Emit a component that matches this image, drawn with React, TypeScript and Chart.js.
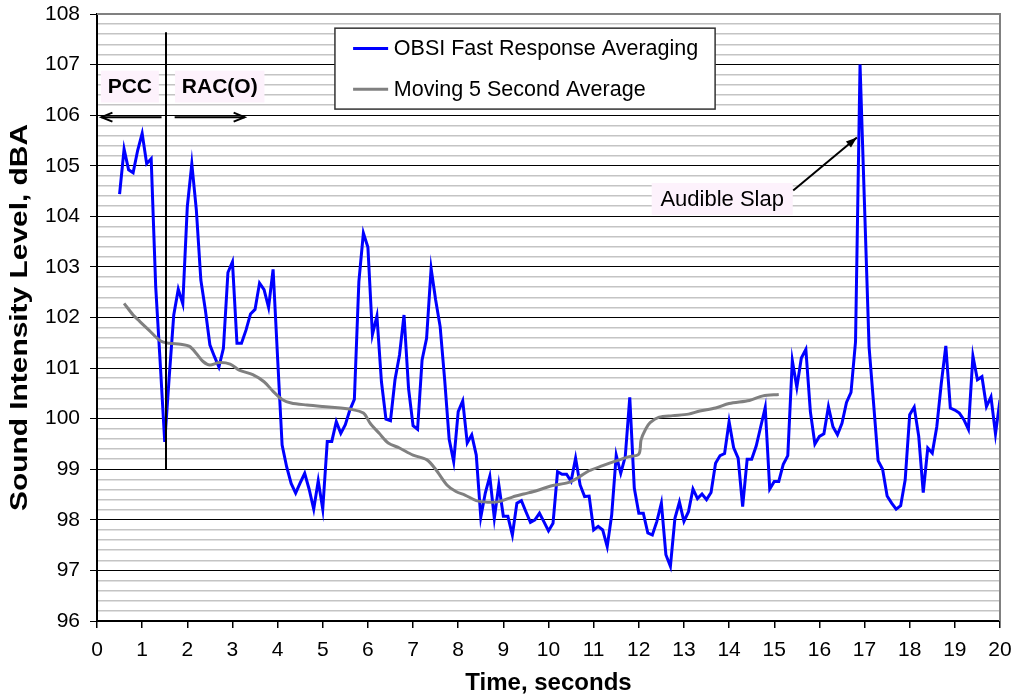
import React, { useEffect, useRef } from 'react';
import { Chart, registerables } from 'chart.js';

Chart.register(...registerables);

const FONT = '"Liberation Sans", Arial, Helvetica, sans-serif';

// ---- Data ----
const xTickValues = [0, 1, 2, 3, 4, 5, 6, 7, 8, 9, 10, 11, 12, 13, 14, 15, 16, 17, 18, 19, 20];
const yTickValues = [96, 97, 98, 99, 100, 101, 102, 103, 104, 105, 106, 107, 108];

const obsiLabel = 'OBSI Fast Response Averaging';
const obsiStartTime = 0.5;
const obsiTimeStep = 0.1;
const obsiLevels = [
  104.44, 105.33, 104.92, 104.86, 105.3, 105.64, 105.04, 105.14, 102.61, 101.1,
  99.54, 100.83, 102.05, 102.56, 102.27, 104.19, 105.04, 104.13, 102.74, 102.15,
  101.46, 101.23, 101.02, 101.39, 102.89, 103.1, 101.49, 101.49, 101.75, 102.07,
  102.16, 102.68, 102.55, 102.2, 102.95, 101.2, 99.48, 99.05, 98.72, 98.53,
  98.73, 98.92, 98.6, 98.21, 98.77, 98.21, 99.55, 99.55, 99.94, 99.71,
  99.88, 100.17, 100.38, 102.71, 103.67, 103.39, 101.66, 102.03, 100.73, 99.99,
  99.96, 100.77, 101.26, 102.05, 100.6, 99.86, 99.79, 101.16, 101.59, 102.97,
  102.35, 101.82, 100.77, 99.59, 99.15, 100.14, 100.35, 99.52, 99.68, 99.28,
  98.05, 98.53, 98.86, 98.03, 98.69, 98.07, 98.07, 97.7, 98.33, 98.38,
  98.16, 97.95, 98.0, 98.13, 97.96, 97.78, 97.93, 98.95, 98.9, 98.9,
  98.76, 99.22, 98.69, 98.46, 98.47, 97.8, 97.87, 97.8, 97.47, 98.1,
  99.28, 98.92, 99.25, 100.42, 98.63, 98.13, 98.13, 97.74, 97.7, 97.97,
  98.33, 97.31, 97.08, 98.03, 98.35, 97.97, 98.16, 98.61, 98.42, 98.51,
  98.4, 98.54, 99.12, 99.27, 99.31, 99.94, 99.43, 99.22, 98.26, 99.2,
  99.2, 99.46, 99.84, 100.22, 98.61, 98.76, 98.76, 99.1, 99.27, 101.15,
  100.62, 101.2, 101.37, 100.14, 99.5, 99.65, 99.7, 100.24, 99.84, 99.68,
  99.91, 100.32, 100.52, 101.52, 107.0, 104.2, 101.42, 100.3, 99.17, 99.0,
  98.47, 98.33, 98.21, 98.28, 98.79, 100.08, 100.23, 99.65, 98.54, 99.42,
  99.32, 99.84, 100.7, 101.44, 100.21, 100.17, 100.11, 99.98, 99.79, 101.24,
  100.77, 100.83, 100.24, 100.43, 99.7, 100.37,
];

const avgLabel = 'Moving 5 Second Average';
const avgTimes = [
  0.6, 0.8, 0.95, 1.15, 1.4, 1.6, 1.85, 2.05, 2.2, 2.35,
  2.5, 2.7, 2.95, 3.15, 3.45, 3.7, 3.9, 4.1, 4.3, 4.65,
  5.0, 5.4, 5.6, 5.9, 6.05, 6.25, 6.45, 6.7, 7.0, 7.3,
  7.5, 7.75, 7.95, 8.15, 8.4, 8.65, 8.9, 9.2, 9.45, 9.75,
  10.05, 10.45, 10.7, 10.9, 11.2, 11.45, 11.75, 12.0, 12.05, 12.15,
  12.25, 12.45, 12.75, 13.1, 13.35, 13.7, 14.0, 14.45, 14.75, 15.1,
];
const avgLevels = [
  102.28, 102.05, 101.92, 101.75, 101.54, 101.49, 101.47, 101.43, 101.29, 101.13,
  101.06, 101.11, 101.08, 100.96, 100.87, 100.73, 100.54, 100.38, 100.31, 100.27,
  100.24, 100.21, 100.19, 100.11, 99.91, 99.71, 99.52, 99.42, 99.28, 99.19,
  99.0, 98.69, 98.56, 98.49, 98.38, 98.35, 98.36, 98.45, 98.51, 98.58,
  98.67, 98.74, 98.86, 98.97, 99.07, 99.15, 99.24, 99.3, 99.58, 99.79,
  99.92, 100.03, 100.06, 100.09, 100.15, 100.21, 100.3, 100.36, 100.45, 100.48,
];

const xTitle = 'Time, seconds';
const yTitle = 'Sound Intensity Level, dBA';
const pccText = 'PCC';
const racText = 'RAC(O)';
const slapText = 'Audible Slap';
const dividerTime = 1.53;
const dividerRange = [99.0, 107.64];

const BLUE = '#0000ff';
const GRAY = '#808080';
const LABEL_BG = '#fdf2fc';

const isMajor = (v: number) => Math.abs(v - Math.round(v)) < 1e-6;

function arrowHead(ctx: CanvasRenderingContext2D, x1: number, y1: number, x2: number, y2: number, len: number, half: number, filled: boolean) {
  const ang = Math.atan2(y2 - y1, x2 - x1);
  const bx = x2 - len * Math.cos(ang);
  const by = y2 - len * Math.sin(ang);
  const px = -Math.sin(ang) * half;
  const py = Math.cos(ang) * half;
  ctx.beginPath();
  ctx.moveTo(bx + px, by + py);
  ctx.lineTo(x2, y2);
  ctx.lineTo(bx - px, by - py);
  if (filled) {
    ctx.closePath();
    ctx.fill();
  } else {
    ctx.stroke();
  }
}

const overlayPlugin = {
  id: 'overlay',
  afterDatasetsDraw(chart: any) {
    const { ctx, chartArea, scales } = chart;
    const xs = scales.x;
    const ys = scales.y;
    const px = (t: number) => xs.getPixelForValue(t);
    const py = (v: number) => ys.getPixelForValue(v);
    ctx.save();

    // plot frame: top & right in gray
    ctx.strokeStyle = '#808080';
    ctx.lineWidth = 2;
    ctx.beginPath();
    ctx.moveTo(chartArea.left, chartArea.top);
    ctx.lineTo(chartArea.right, chartArea.top);
    ctx.lineTo(chartArea.right, chartArea.bottom);
    ctx.stroke();

    // divider line
    ctx.strokeStyle = '#000';
    ctx.lineWidth = 2;
    ctx.beginPath();
    ctx.moveTo(Math.round(px(dividerTime)), py(dividerRange[0]));
    ctx.lineTo(Math.round(px(dividerTime)), py(dividerRange[1]));
    ctx.stroke();

    // label boxes
    const box = (text: string, t1: number, t2: number, v1: number, v2: number, bold: boolean, size: number) => {
      const x1 = px(t1), x2 = px(t2), y1 = py(v1), y2 = py(v2);
      ctx.fillStyle = LABEL_BG;
      ctx.fillRect(x1, y1, x2 - x1, y2 - y1);
      ctx.fillStyle = '#000';
      ctx.font = `${bold ? 'bold ' : ''}${size}px ${FONT}`;
      ctx.textAlign = 'center';
      ctx.textBaseline = 'middle';
      ctx.fillText(text, (x1 + x2) / 2, (y1 + y2) / 2 + 1);
    };
    box(pccText, 0.084, 1.37, 106.88, 106.25, true, 21);
    box(racText, 1.728, 3.709, 106.88, 106.25, true, 21);
    box(slapText, 12.285, 15.41, 104.66, 104.03, false, 22);

    // PCC / RAC arrows
    ctx.strokeStyle = '#000';
    ctx.fillStyle = '#000';
    ctx.lineWidth = 2;
    const ay = py(105.96);
    const pa1 = px(1.43), pa2 = px(0.098);
    ctx.beginPath(); ctx.moveTo(pa1, ay); ctx.lineTo(pa2, ay); ctx.stroke();
    arrowHead(ctx, pa1, ay, pa2, ay, 11, 4.5, false);
    const ra1 = px(1.72), ra2 = px(3.27);
    ctx.beginPath(); ctx.moveTo(ra1, ay); ctx.lineTo(ra2, ay); ctx.stroke();
    arrowHead(ctx, ra1, ay, ra2, ay, 11, 4.5, false);

    // Audible slap arrow
    const sx1 = px(15.42), sy1 = py(104.51), sx2 = px(16.83), sy2 = py(105.56);
    ctx.lineWidth = 2;
    ctx.beginPath(); ctx.moveTo(sx1, sy1); ctx.lineTo(sx2, sy2); ctx.stroke();
    arrowHead(ctx, sx1, sy1, sx2, sy2, 11, 4, true);

    // legend
    const lx1 = px(5.27), lx2 = px(13.69), ly1 = py(107.72), ly2 = py(106.12);
    ctx.fillStyle = '#fff';
    ctx.fillRect(lx1, ly1, lx2 - lx1, ly2 - ly1);
    ctx.strokeStyle = '#333';
    ctx.lineWidth = 1.5;
    ctx.strokeRect(lx1, ly1, lx2 - lx1, ly2 - ly1);
    const rows = [
      { label: obsiLabel, color: BLUE, v: 107.32 },
      { label: avgLabel, color: GRAY, v: 106.51 },
    ];
    ctx.font = `21.5px ${FONT}`;
    ctx.textAlign = 'left';
    ctx.textBaseline = 'middle';
    rows.forEach((r) => {
      const yy = py(r.v);
      ctx.strokeStyle = r.color;
      ctx.lineWidth = 3;
      ctx.beginPath();
      ctx.moveTo(px(5.672), yy);
      ctx.lineTo(px(6.448), yy);
      ctx.stroke();
      ctx.fillStyle = '#000';
      ctx.fillText(r.label, px(6.574), yy + 1);
    });

    // y-axis title (drawn stretched along its length, as in the source)
    const midY = (chartArea.top + chartArea.bottom) / 2;
    ctx.save();
    ctx.translate(21, midY);
    ctx.rotate(-Math.PI / 2);
    ctx.scale(1.3, 1);
    ctx.font = `bold 23px ${FONT}`;
    ctx.fillStyle = '#000';
    ctx.textAlign = 'center';
    ctx.textBaseline = 'middle';
    ctx.fillText(yTitle, 0, 0);
    ctx.restore();

    ctx.restore();
  },
};

export default function App() {
  const ref = useRef<HTMLCanvasElement | null>(null);

  useEffect(() => {
    if (!ref.current) return;
    const obsiData = obsiLevels.map((v, i) => ({ x: +(obsiStartTime + i * obsiTimeStep).toFixed(2), y: v }));
    const avgData = avgTimes.map((t, i) => ({ x: t, y: avgLevels[i] }));
    const chart = new Chart(ref.current, {
      type: 'line',
      data: {
        datasets: [
          {
            label: avgLabel,
            data: avgData,
            borderColor: GRAY,
            borderWidth: 3,
            pointRadius: 0,
            tension: 0.3,
            fill: false,
          },
          {
            label: obsiLabel,
            data: obsiData,
            borderColor: BLUE,
            borderWidth: 3,
            pointRadius: 0,
            tension: 0,
            fill: false,
          },
        ],
      },
      options: {
        animation: false,
        responsive: false,
        devicePixelRatio: 1,
        layout: { padding: { top: 14, right: 14, left: 0, bottom: 0 } },
        plugins: {
          legend: { display: false },
          tooltip: { enabled: false },
        },
        scales: {
          x: {
            type: 'linear',
            min: 0,
            max: 20,
            afterFit: (s: any) => {
              s.height = 77;
              s.paddingLeft = 0;
              s.paddingRight = 0;
            },
            afterBuildTicks: (s: any) => { s.ticks = xTickValues.map((v) => ({ value: v })); },
            ticks: {
              autoSkip: false,
              maxRotation: 0,
              padding: 10,
              color: '#000',
              font: { family: FONT, size: 21 },
              callback: (v: any) => String(v),
            },
            grid: { drawOnChartArea: false, drawTicks: true, tickLength: 7, color: '#000', lineWidth: 1.5 },
            border: { color: '#000', width: 2 },
            title: {
              display: true,
              text: xTitle,
              color: '#000',
              font: { family: FONT, size: 24, weight: 'bold' },
              padding: { top: 0, bottom: 0 },
            },
          },
          y: {
            type: 'linear',
            min: 96,
            max: 108,
            afterFit: (s: any) => {
              s.width = 97;
              s.paddingTop = 0;
              s.paddingBottom = 0;
            },
            ticks: {
              stepSize: 0.2,
              autoSkip: false,
              padding: 10,
              color: '#000',
              font: { family: FONT, size: 21 },
              callback: (v: any) => (isMajor(v) && yTickValues.includes(Math.round(v)) ? String(Math.round(v)) : ''),
            },
            grid: {
              color: (c: any) => (c.tick && isMajor(c.tick.value) ? '#000' : '#c4c4c4'),
              lineWidth: (c: any) => (c.tick && isMajor(c.tick.value) ? 1 : 1.5),
              tickColor: (c: any) => (c.tick && isMajor(c.tick.value) ? '#000' : 'rgba(0,0,0,0)'),
              tickLength: 7,
              drawTicks: true,
            },
            border: { color: '#000', width: 2 },
            title: { display: false },
          },
        },
      },
      plugins: [overlayPlugin],
    } as any);
    return () => chart.destroy();
  }, []);

  return (
    <div style={{ position: 'absolute', left: 0, top: 0, width: 1014, height: 698, background: '#fff' }}>
      <canvas ref={ref} width={1014} height={698} style={{ display: 'block' }} />
    </div>
  );
}
